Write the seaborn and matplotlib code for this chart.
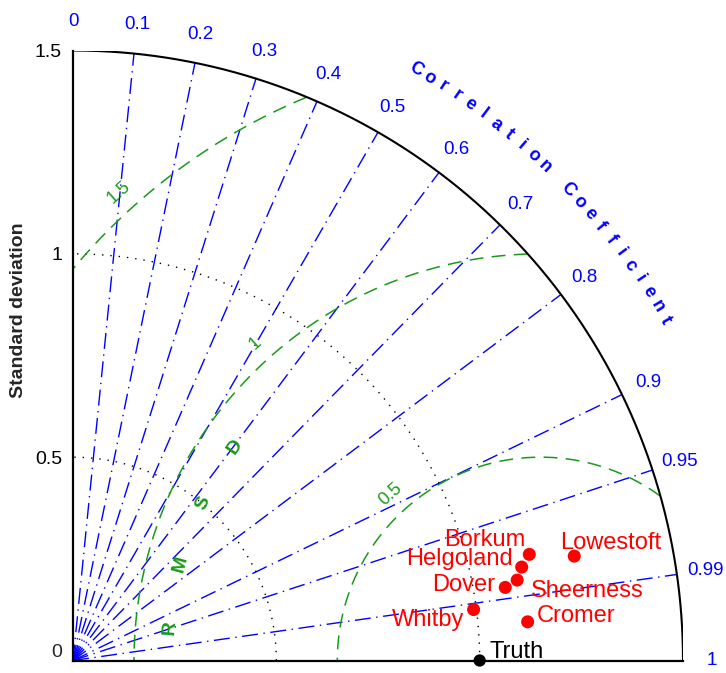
import numpy as np
import pandas as pd
import matplotlib
matplotlib.use("Agg")
import matplotlib.pyplot as plt
import seaborn as sns

# normalised statistics of each tide gauge vs the reference ("Truth")
stations = ["Borkum", "Lowestoft", "Helgoland", "Sheerness", "Dover", "Whitby", "Cromer"]
std_dev = [1.152, 1.259, 1.127, 1.110, 1.078, 0.993, 1.122]
corr_coef = [0.974, 0.979, 0.979, 0.984, 0.986, 0.992, 0.9964]
ref_label = "Truth"
ref_std = 1.0

# diagram grid
corr_ticks = [0, 0.1, 0.2, 0.3, 0.4, 0.5, 0.6, 0.7, 0.8, 0.9, 0.95, 0.99, 1]
std_ticks = [0, 0.5, 1, 1.5]
std_tick_labels = ["0", "0.5", "1", "1.5"]
std_arcs = [0.5, 1.0]
rmsd_levels = [0.5, 1.0, 1.5]
rmsd_labels = ["0.5", "1", "1.5"]
rmsd_centre = 1.15
max_std = 1.5

BLUE = "#0000ff"
GREEN = "#1a9a1a"
RED = "#ff0000"

sns.set_style("white")
plt.rcParams["font.family"] = ["Liberation Sans", "DejaVu Sans"]
plt.rcParams["lines.scale_dashes"] = False

fig = plt.figure(figsize=(7.26, 6.73), dpi=100)
ax = fig.add_axes([73 / 726, 12.5 / 673, 610 / 726, 610 / 673])

# correlation rays
for c in corr_ticks[1:-1]:
    th = np.arccos(c)
    ax.plot([0, max_std * np.cos(th)], [0, max_std * np.sin(th)],
            color=BLUE, lw=1.0, linestyle=(0, (11.5, 4, 1, 4)), zorder=2)

# std dev arcs
t = np.linspace(0, np.pi / 2, 500)
for s in std_arcs:
    ax.plot(s * np.cos(t), s * np.sin(t), color="black", lw=1.0,
            linestyle=(0, (1, 5)), zorder=2)
ax.plot(max_std * np.cos(t), max_std * np.sin(t), color="black", lw=1.5, zorder=3)

# centred RMS difference contours
phi = np.linspace(0, np.pi, 3000)
for r, lab in zip(rmsd_levels, rmsd_labels):
    x = rmsd_centre + r * np.cos(phi)
    y = r * np.sin(phi)
    keep = (x >= 0) & (np.hypot(x, y) <= max_std)
    ax.plot(np.where(keep, x, np.nan), np.where(keep, y, np.nan), color=GREEN,
            lw=1.1, linestyle=(0, (10, 6)), zorder=2)
    a = np.deg2rad(132)
    ax.text(rmsd_centre + (r + 0.05) * np.cos(a), (r + 0.05) * np.sin(a), lab,
            color=GREEN, fontsize=13, rotation=42, ha="center", va="center",
            rotation_mode="anchor")

for ch, a in zip("RMSD", [175, 165, 155, 145]):
    ar = np.deg2rad(a)
    ax.text(rmsd_centre + 0.916 * np.cos(ar), 0.916 * np.sin(ar), ch, color=GREEN,
            fontsize=14, fontweight="bold", rotation=a - 90, ha="center",
            va="center", rotation_mode="anchor")

# correlation tick labels
for c in corr_ticks:
    th = np.arccos(c)
    ax.text(1.571 * np.cos(th), 1.571 * np.sin(th), f"{c:g}", color=BLUE,
            fontsize=13.5, ha="center", va="center", clip_on=False)

title = "Correlation Coefficient"
for ch, a in zip(title, np.linspace(59.9, 29.9, len(title))):
    ar = np.deg2rad(a)
    ax.text(1.68 * np.cos(ar), 1.68 * np.sin(ar), ch, color=BLUE, fontsize=13,
            fontweight="bold", rotation=a - 90, ha="center", va="center",
            rotation_mode="anchor", clip_on=False)

# data points
df = pd.DataFrame({"station": stations, "std": std_dev, "corr": corr_coef})
df["x"] = df["std"] * df["corr"]
df["y"] = df["std"] * np.sin(np.arccos(df["corr"]))
sns.scatterplot(data=df, x="x", y="y", color=RED, s=88, edgecolor="none",
                ax=ax, zorder=5, clip_on=False)
ref = pd.DataFrame({"x": [ref_std], "y": [0.0]})
sns.scatterplot(data=ref, x="x", y="y", color="black", s=78, edgecolor="none",
                ax=ax, zorder=5, clip_on=False)

# label placement, pixels from the marker (dx, dy up, ha)
label_pos = {
    "Borkum": (-4.3, 8, "right"),
    "Lowestoft": (-14, 7.4, "left"),
    "Helgoland": (-8.7, 2.3, "right"),
    "Dover": (-10.3, -4, "right"),
    "Sheerness": (13.7, -16.7, "left"),
    "Whitby": (-9.7, -16.3, "right"),
    "Cromer": (9.3, 0, "left"),
    "Truth": (10, 2, "left"),
}
for _, row in df.iterrows():
    dx, dy, ha = label_pos[row["station"]]
    ax.annotate(row["station"], (row["x"], row["y"]), xytext=(dx * 0.72, dy * 0.72),
                textcoords="offset points", ha=ha, va="baseline", color=RED,
                fontsize=17, zorder=6)
dx, dy, ha = label_pos[ref_label]
ax.annotate(ref_label, (ref_std, 0), xytext=(dx * 0.72, dy * 0.72),
            textcoords="offset points", ha=ha, va="baseline", color="black",
            fontsize=17, zorder=6, annotation_clip=False)

# axes
ax.set_xlim(0, max_std)
ax.set_ylim(0, max_std)
ax.set_aspect("auto")
ax.set_xlabel("")
ax.set_ylabel("")
ax.set_xticks([])
ax.set_yticks(std_ticks[1:])
ax.set_yticklabels(std_tick_labels[1:], fontsize=14)
ax.tick_params(axis="y", length=0, pad=8, colors="black")
ax.annotate(std_tick_labels[0], (0, 0), xytext=(-8, 6), textcoords="offset points",
            ha="right", va="center", fontsize=14, annotation_clip=False)
for side in ["top", "right"]:
    ax.spines[side].set_visible(False)
for side in ["left", "bottom"]:
    ax.spines[side].set_color("black")
    ax.spines[side].set_linewidth(1.6)
    ax.spines[side].set_zorder(4)

fig.text(19 / 726, 1 - 310 / 673, "Standard deviation", rotation=90, ha="center",
         va="center", fontsize=14, fontweight="bold")

fig.savefig("out.png", dpi=100)
